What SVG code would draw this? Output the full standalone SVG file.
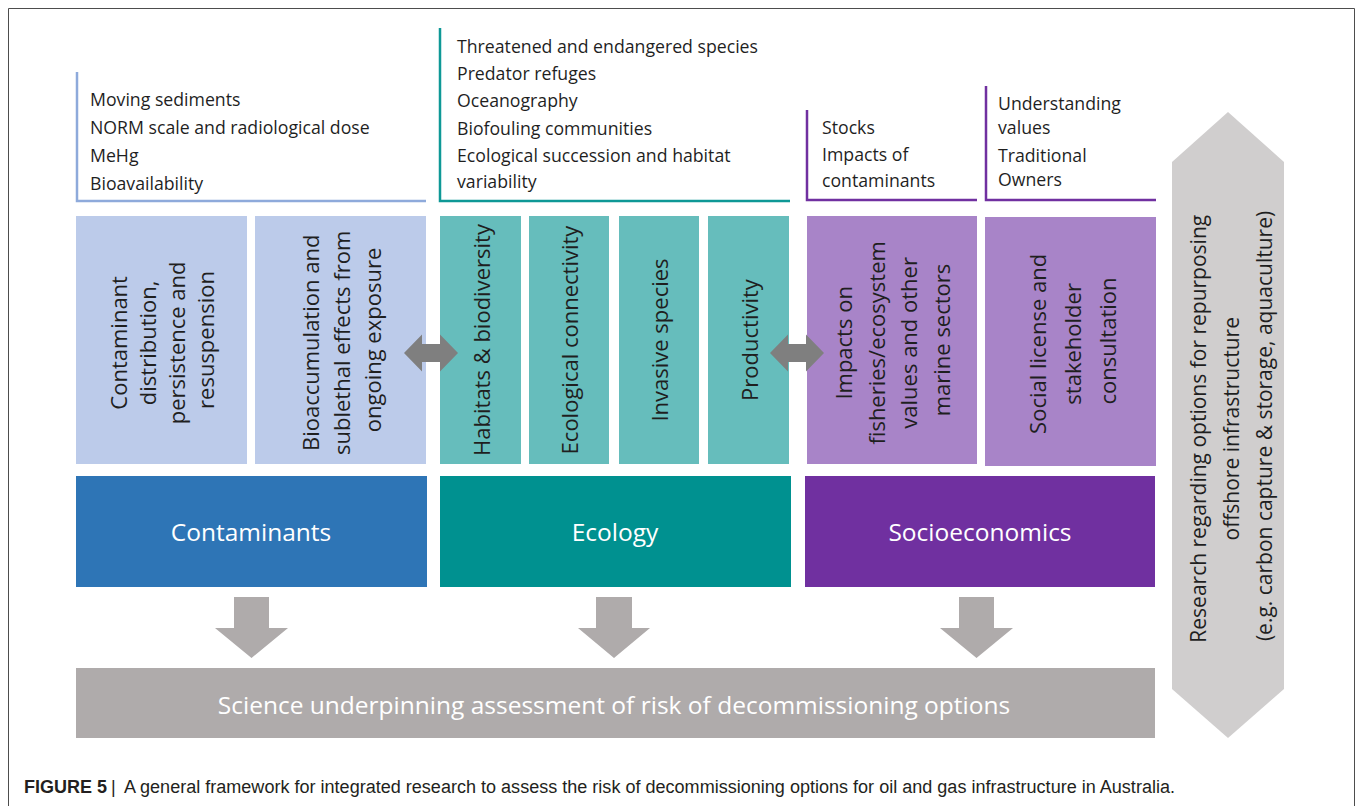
<svg xmlns="http://www.w3.org/2000/svg" width="1358" height="806" viewBox="0 0 1358 806">
  <defs>
    <style>
      .lbl { font-family: "Open Sans", "Noto Sans", sans-serif; fill: #1f1f1f; }
      .top { font-size: 17.7px; }
      .sub { font-size: 22px; text-anchor: middle; dominant-baseline: central; }
      .main { font-family: "Open Sans", "Noto Sans", sans-serif; font-size: 24.5px; fill: #ffffff; text-anchor: middle; dominant-baseline: central; }
      .brk { fill: none; stroke-width: 2.5; }
      .cap { font-family: "Liberation Sans", Arial, sans-serif; font-size: 18px; fill: #231f20; }
    </style>
  </defs>

  <rect x="0" y="0" width="1358" height="806" fill="#ffffff"/>
  <!-- frame -->
  <path d="M8.5 810 V8.5 H1354.5 V810" fill="none" stroke="#4d4d4d" stroke-width="1"/>

  <!-- Contaminants column -->
  <g id="contaminants-notes">
    <path class="brk" d="M77 72 V201 H426" stroke="#8eaadb"/>
    <text class="lbl top" x="90" y="106">Moving sediments</text>
    <text class="lbl top" x="90" y="134">NORM scale and radiological dose</text>
    <text class="lbl top" x="90" y="162">MeHg</text>
    <text class="lbl top" x="90" y="190">Bioavailability</text>
  </g>
  <g id="contaminant-distribution">
    <rect x="76" y="216" width="171" height="248" fill="#bccbea"/>
    <text class="lbl sub" transform="translate(161,340) rotate(-90)">
      <tspan x="0" y="-43.5">Contaminant</tspan>
      <tspan x="0" y="-14.5">distribution,</tspan>
      <tspan x="0" y="14.5">persistence and</tspan>
      <tspan x="0" y="43.5">resuspension</tspan>
    </text>
  </g>
  <g id="bioaccumulation">
    <rect x="255" y="216" width="171" height="248" fill="#bccbea"/>
    <text class="lbl sub" transform="translate(341,340) rotate(-90)">
      <tspan x="0" y="-31">Bioaccumulation and</tspan>
      <tspan x="0" y="0">sublethal effects from</tspan>
      <tspan x="0" y="31">ongoing exposure</tspan>
    </text>
  </g>
  <g id="contaminants">
    <rect x="76" y="476" width="351" height="111" fill="#2e75b6"/>
    <text class="main" x="251" y="531">Contaminants</text>
  </g>

  <!-- Ecology column -->
  <g id="ecology-notes">
    <path class="brk" d="M440 28 V201 H790" stroke="#0e9896"/>
    <text class="lbl top" x="457" y="53">Threatened and endangered species</text>
    <text class="lbl top" x="457" y="80">Predator refuges</text>
    <text class="lbl top" x="457" y="107">Oceanography</text>
    <text class="lbl top" x="457" y="135">Biofouling communities</text>
    <text class="lbl top" x="457" y="162">Ecological succession and habitat</text>
    <text class="lbl top" x="457" y="188">variability</text>
  </g>
  <g id="habitats">
    <rect x="440" y="216" width="81" height="248" fill="#66bdbc"/>
    <text class="lbl sub" transform="translate(481,340) rotate(-90)" x="0" y="0">Habitats &amp; biodiversity</text>
  </g>
  <g id="connectivity">
    <rect x="529" y="216" width="80" height="248" fill="#66bdbc"/>
    <text class="lbl sub" transform="translate(569,340) rotate(-90)" x="0" y="0">Ecological connectivity</text>
  </g>
  <g id="invasive">
    <rect x="619" y="216" width="80" height="248" fill="#66bdbc"/>
    <text class="lbl sub" transform="translate(659,340) rotate(-90)" x="0" y="0">Invasive species</text>
  </g>
  <g id="productivity">
    <rect x="708" y="216" width="81" height="248" fill="#66bdbc"/>
    <text class="lbl sub" transform="translate(749,340) rotate(-90)" x="0" y="0">Productivity</text>
  </g>
  <g id="ecology">
    <rect x="440" y="476" width="351" height="111" fill="#009190"/>
    <text class="main" x="615" y="531">Ecology</text>
  </g>

  <!-- Socioeconomics column -->
  <g id="fisheries-notes">
    <path class="brk" d="M807 110 V200 H977" stroke="#7030a0"/>
    <text class="lbl top" x="822" y="134">Stocks</text>
    <text class="lbl top" x="822" y="161">Impacts of</text>
    <text class="lbl top" x="822" y="187">contaminants</text>
  </g>
  <g id="social-notes">
    <path class="brk" d="M986 86 V200 H1156" stroke="#7030a0"/>
    <text class="lbl top" x="998" y="110">Understanding</text>
    <text class="lbl top" x="998" y="134">values</text>
    <text class="lbl top" x="998" y="162">Traditional</text>
    <text class="lbl top" x="998" y="186">Owners</text>
  </g>
  <g id="fisheries">
    <rect x="807" y="216" width="170" height="248" fill="#a884c8"/>
    <text class="lbl sub" font-size="23" transform="translate(892,340) rotate(-90)">
      <tspan x="0" y="-48.75">Impacts on</tspan>
      <tspan x="0" y="-16.25">fisheries/ecosystem</tspan>
      <tspan x="0" y="16.25">values and other</tspan>
      <tspan x="0" y="48.75">marine sectors</tspan>
    </text>
  </g>
  <g id="social-license">
    <rect x="985" y="217" width="171" height="249" fill="#a884c8"/>
    <text class="lbl sub" font-size="23.5" transform="translate(1072,341) rotate(-90)">
      <tspan x="0" y="-35">Social license and</tspan>
      <tspan x="0" y="0">stakeholder</tspan>
      <tspan x="0" y="35">consultation</tspan>
    </text>
  </g>
  <g id="socioeconomics">
    <rect x="805" y="476" width="350" height="111" fill="#7030a0"/>
    <text class="main" x="980" y="531">Socioeconomics</text>
  </g>

  <!-- Outcome -->
  <g id="risk-assessment">
    <rect x="76" y="668" width="1079" height="70" fill="#afabab"/>
    <text class="main" x="614" y="704" font-size="23.7">Science underpinning assessment of risk of decommissioning options</text>
  </g>

  <!-- Repurposing research -->
  <g id="repurposing">
    <polygon points="1228,112 1284,162 1284,689 1228,738 1172,689 1172,162" fill="#d0cece"/>
    <text class="lbl" font-size="21" text-anchor="middle" dominant-baseline="central" transform="translate(1231,426) rotate(-90)">
      <tspan x="0" y="-33">Research regarding options for repurposing</tspan>
      <tspan x="0" y="0">offshore infrastructure</tspan>
      <tspan x="0" y="33">(e.g. carbon capture &amp; storage, aquaculture)</tspan>
    </text>
  </g>

  <!-- Connectors -->
  <g id="connectors">
    <!-- two-way links between columns -->
    <polygon points="404,353 422,334.5 422,344 440,344 440,334.5 458,353 440,371.5 440,362 422,362 422,371.5" fill="#7f7f7f"/>
    <polygon points="770,353 788,334.5 788,344 806,344 806,334.5 824,353 806,371.5 806,362 788,362 788,371.5" fill="#7f7f7f"/>
    <!-- flows into the risk assessment -->
    <polygon points="234,597 269,597 269,628 288,628 251.5,658 215,628 234,628" fill="#afabab"/>
    <polygon points="596,597 632,597 632,628 650,628 614,658 578,628 596,628" fill="#afabab"/>
    <polygon points="959,597 994,597 994,628 1013,628 976.5,658 940,628 959,628" fill="#afabab"/>
  </g>

  <!-- Caption -->
  <text class="cap" x="24" y="793" font-weight="bold">FIGURE 5</text>
  <text class="cap" x="111" y="793">|</text>
  <text class="cap" x="124" y="793" textLength="1051" lengthAdjust="spacingAndGlyphs">A general framework for integrated research to assess the risk of decommissioning options for oil and gas infrastructure in Australia.</text>
</svg>
